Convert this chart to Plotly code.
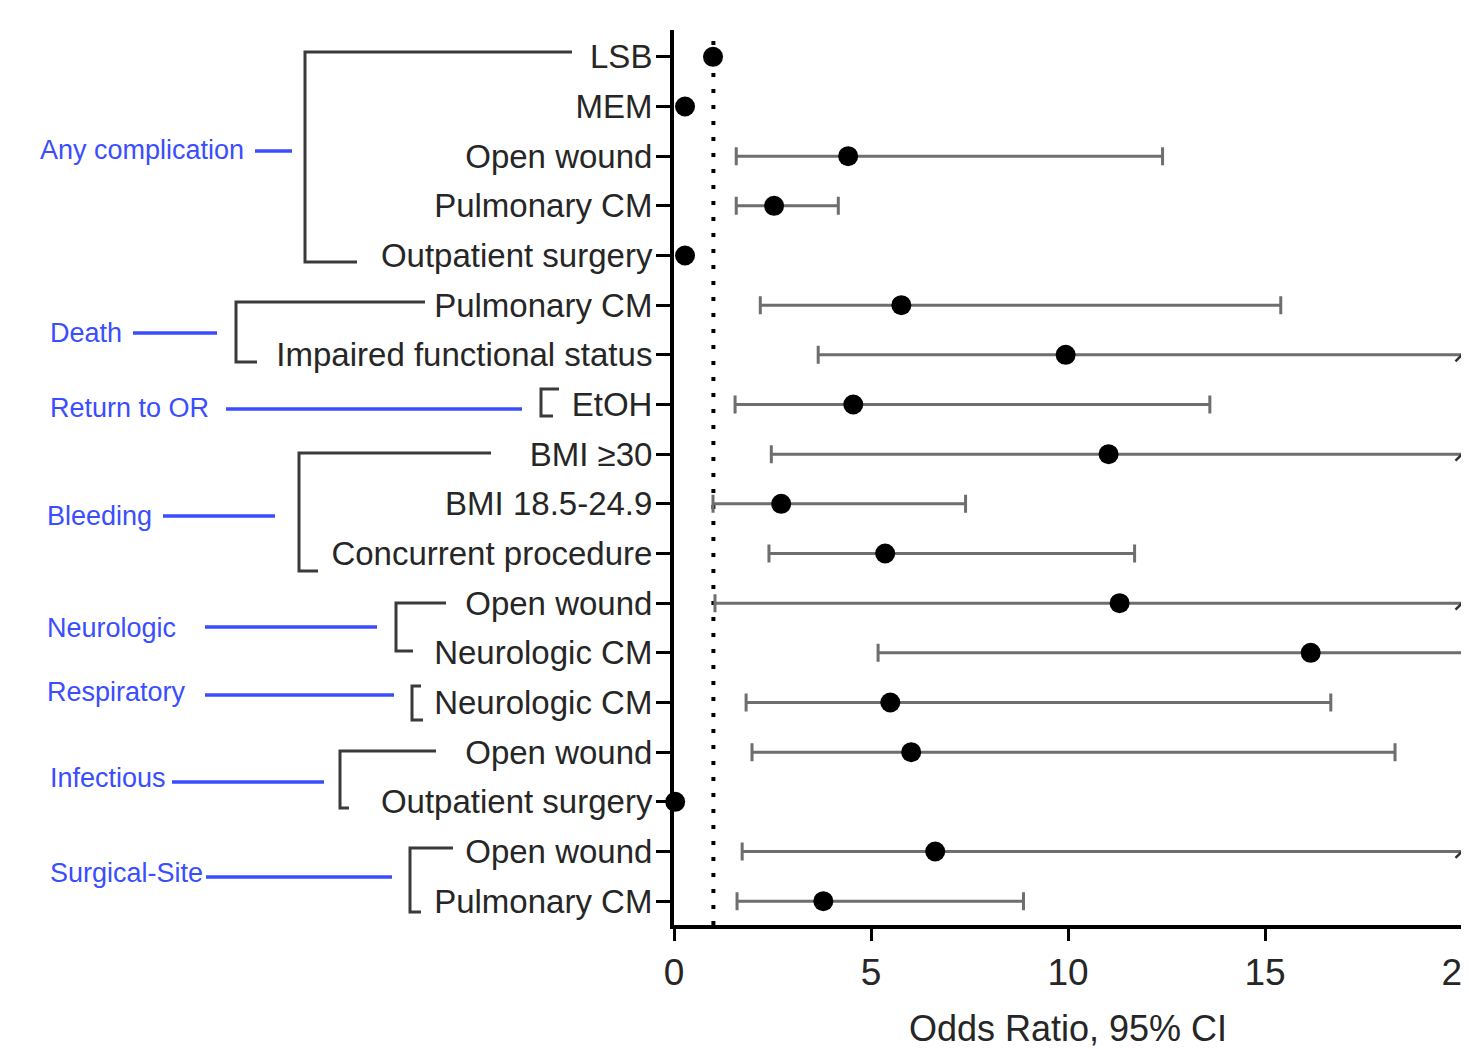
import numpy as np
import plotly.graph_objects as go

# ---------------- data ----------------
row_labels = ["LSB", "MEM", "Open wound", "Pulmonary CM", "Outpatient surgery",
              "Pulmonary CM", "Impaired functional status",
              "EtOH",
              "BMI ≥30", "BMI 18.5-24.9", "Concurrent procedure",
              "Open wound", "Neurologic CM",
              "Neurologic CM",
              "Open wound", "Outpatient surgery",
              "Open wound", "Pulmonary CM"]
odds_ratio = [0.99, 0.28, 4.42, 2.54, 0.28,
              5.77, 9.94,
              4.55,
              11.03, 2.72, 5.36,
              11.31, 16.16,
              5.49,
              6.02, 0.03,
              6.63, 3.79]
ci_low = [np.nan, np.nan, 1.58, 1.58, np.nan,
          2.19, 3.66,
          1.55,
          2.47, 0.99, 2.41,
          1.04, 5.18,
          1.83,
          1.98, np.nan,
          1.73, 1.60]
ci_high = [np.nan, np.nan, 12.4, 4.17, np.nan,
           15.4, 27.0,
           13.6,
           49.3, 7.40, 11.69,
           123.0, 20.4,
           16.67,
           18.3, np.nan,
           25.4, 8.87]
group_names = ["Any complication", "Death", "Return to OR", "Bleeding",
               "Neurologic", "Respiratory", "Infectious", "Surgical-Site"]
x_ticks = [0, 5, 10, 15, 20]
x_title = "Odds Ratio, 95% CI"
ref_line = 1

# ---------------- layout constants ----------------
PAGE_W, PAGE_H = 1469, 1049
OFF = 8                              # default body margin of the page
W, H = PAGE_W - OFF, PAGE_H - OFF
L, R, T, B = 674, 1462, 30, 925      # plot area in page pixels
X_MAX = 20

def px(x):
    return (x - L) / (R - L)

def py(y):
    return 1 - (y - T) / (B - T)

# decoration geometry per group (page pixels):
# label_x, label_y, blue line (x0, x1, y), bracket x, top (y, x_end), bottom (y, x_end)
deco = [
    (38, 150, (255, 292, 151), 305, (52, 572), (262, 357)),
    (48, 333, (133, 217, 333), 236, (302, 425), (362, 257)),
    (48, 408, (226, 522, 409), 541, (389, 559), (416, 553)),
    (45, 516, (163, 275, 516), 299, (453, 491), (571, 318)),
    (45, 628, (205, 377, 627), 396, (603, 446), (651, 413)),
    (45, 692, (205, 394, 695), 412, (686, 421), (720, 423)),
    (48, 778, (172, 324, 782), 340, (751, 436), (808, 349)),
    (48, 873, (206, 392, 877), 410, (848, 453), (912, 421)),
]

FONT = "Liberation Sans, Arial, sans-serif"
rows = np.arange(len(row_labels))
odds = np.array(odds_ratio, dtype=float)
lo = np.array(ci_low, dtype=float)
hi = np.array(ci_high, dtype=float)
mask = ~np.isnan(lo)

fig = go.Figure()

# error bars (clipped to plot area)
fig.add_trace(go.Scatter(
    x=odds[mask], y=rows[mask], mode="markers",
    marker=dict(size=1, color="rgba(0,0,0,0)"),
    error_x=dict(type="data", symmetric=False,
                 array=(hi - odds)[mask], arrayminus=(odds - lo)[mask],
                 color="#6e6e6e", thickness=3, width=9),
    cliponaxis=True, hoverinfo="skip", showlegend=False))

# axis-break marks where the CI exceeds the axis
brk = [int(r) for r in rows if not np.isnan(hi[r]) and hi[r] > X_MAX + 0.5]
fig.add_trace(go.Scatter(
    x=[X_MAX] * len(brk), y=brk, mode="markers",
    marker=dict(symbol="line-ne", size=13, line=dict(width=2.5, color="#333")),
    cliponaxis=False, hoverinfo="skip", showlegend=False))

# point estimates
fig.add_trace(go.Scatter(
    x=odds, y=rows, mode="markers",
    marker=dict(size=20, color="black"),
    cliponaxis=False, showlegend=False))

shapes = [dict(type="line", xref="x", yref="paper", x0=ref_line, x1=ref_line,
               y0=0, y1=1, layer="below",
               line=dict(color="black", width=4, dash="4px,12px"))]
annotations = []
blue = "#3a4dff"
bracket = "#3a3a3a"
for name, (lx, ly, (b0, b1, by), bx, (ty, tx), (bty, btx)) in zip(group_names, deco):
    annotations.append(dict(text=name, xref="paper", yref="paper", x=px(lx), y=py(ly),
                            xanchor="left", yanchor="middle", showarrow=False,
                            font=dict(family=FONT, size=27, color=blue)))
    shapes.append(dict(type="line", xref="paper", yref="paper",
                       x0=px(b0), x1=px(b1), y0=py(by), y1=py(by),
                       line=dict(color=blue, width=3.5)))
    shapes.append(dict(type="path", xref="paper", yref="paper",
                       path=f"M {px(tx)} {py(ty)} L {px(bx)} {py(ty)} L {px(bx)} {py(bty)} L {px(btx)} {py(bty)}",
                       line=dict(color=bracket, width=3)))

fig.update_layout(
    width=W, height=H,
    margin=dict(l=L - OFF, r=W - (R - OFF), t=T - OFF, b=H - (B - OFF), autoexpand=False),
    paper_bgcolor="white", plot_bgcolor="white",
    font=dict(family=FONT, size=34, color="#262626"),
    shapes=shapes, annotations=annotations,
    xaxis=dict(range=[0, X_MAX], tickvals=x_ticks, ticktext=[str(t) for t in x_ticks],
               showline=True, linecolor="black", linewidth=4,
               ticks="outside", ticklen=12, tickwidth=3, tickcolor="black",
               showgrid=False, zeroline=False, automargin=False,
               ticklabeloverflow="allow",
               tickfont=dict(size=37, color="#262626"),
               title=dict(text=x_title, standoff=24, font=dict(size=36, color="#262626"))),
    yaxis=dict(range=[len(row_labels) - 0.52, -0.54], tickvals=rows, ticktext=row_labels,
               showline=True, linecolor="black", linewidth=4,
               ticks="outside", ticklen=14, tickwidth=3, tickcolor="black",
               showgrid=False, zeroline=False, automargin=False,
               ticklabelstandoff=-3,
               tickfont=dict(size=33, color="#262626")),
)

fig.write_html("out.html")
